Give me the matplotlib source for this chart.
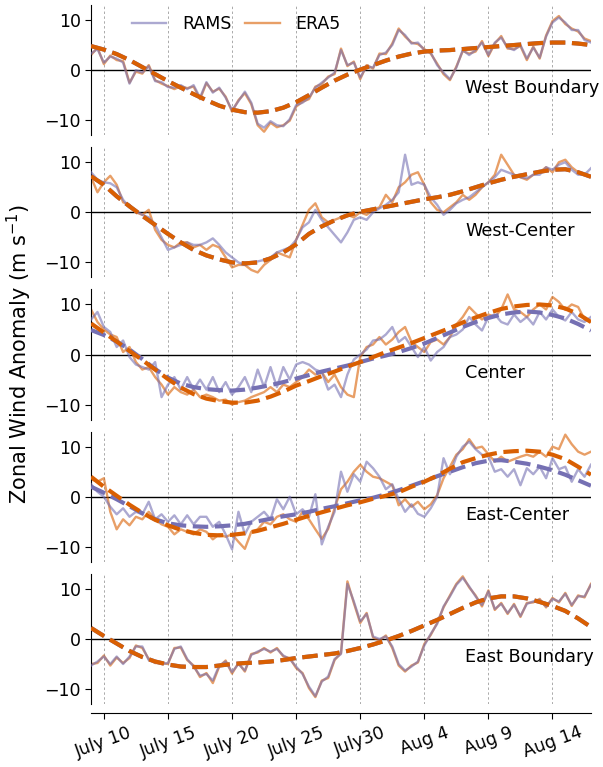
import numpy as np
import matplotlib.pyplot as plt

# half-day samples, expressed as day of July (Aug 1 = 32)
day = np.arange(9.0, 48.01, 0.5)
# daily samples for the smoothed (low-pass) curves
day_smooth = np.arange(9, 49)

regions = ["West Boundary", "West-Center", "Center", "East-Center", "East Boundary"]

rams_west_boundary = [
    3.3, 4.2, 1.5, 2.7, 2.3, 1.5, -2.7, 0.0, -0.5, 0.8, -2.2, -2.4, -3.4, -3.5, -3.0, -3.8, -3.0,
    -5.5, -2.4, -4.5, -3.5, -5.5, -8.0, -6.2, -4.3, -6.5, -10.7, -11.5, -10.2, -11.0, -11.2, -9.8, -7.0,
    -6.5, -5.5, -3.5, -2.5, -1.5, -0.5, 4.0, 1.0, 1.5, -1.5, 0.8, 0.5, 3.0, 3.5, 5.0, 8.0, 7.0, 5.3,
    5.5, 4.0, 3.5, 1.0, -0.5, -1.8, 0.5, 4.0, 3.0, 4.0, 5.5, 3.0, 5.5, 6.5, 4.5, 4.0, 5.0, 2.3, 4.5,
    2.5, 6.7, 9.5, 10.5, 9.5, 8.0, 8.0, 6.0, 5.5,
]
era5_west_boundary = [
    3.0, 4.5, 1.2, 2.9, 2.0, 1.8, -2.5, -0.3, -0.7, 1.0, -2.0, -2.7, -3.2, -3.8, -3.2, -3.6, -3.3,
    -5.8, -2.6, -4.3, -3.7, -5.3, -8.3, -6.0, -4.6, -6.8, -11.0, -12.3, -10.5, -11.4, -11.0, -10.1, -7.3,
    -6.3, -5.8, -3.3, -2.8, -1.3, -0.8, 4.3, 0.8, 1.7, -1.8, 1.0, 0.3, 3.3, 3.2, 5.3, 8.3, 6.7, 5.5,
    5.2, 4.2, 3.3, 1.3, -0.8, -2.0, 0.7, 3.8, 3.3, 3.7, 5.8, 2.8, 5.3, 6.8, 4.3, 4.2, 4.8, 2.0, 4.7,
    2.3, 6.9, 9.8, 10.8, 9.2, 8.3, 7.7, 6.3, 5.8,
]
rams_west_center = [
    8.0, 6.5, 6.0, 5.8, 5.0, 2.5, 1.0, 0.3, -0.5, -1.0, -2.5, -5.0, -7.5, -7.0, -6.5, -6.0, -6.5,
    -6.5, -6.0, -5.2, -6.5, -8.0, -9.0, -10.0, -10.5, -10.0, -9.8, -9.5, -9.0, -8.0, -7.5, -7.0, -5.5,
    -3.0, -2.0, 0.5, -1.5, -3.0, -4.5, -6.0, -4.0, -1.5, -1.0, -1.5, 0.0, 0.8, 1.5, 2.5, 4.0, 11.5, 5.5,
    6.0, 5.5, 3.0, 1.5, -0.5, 0.5, 1.8, 2.5, 3.0, 4.0, 5.0, 6.0, 7.0, 8.5, 8.0, 7.5, 7.0, 6.8, 7.5,
    7.5, 9.0, 8.5, 9.5, 10.0, 8.5, 7.5, 7.5, 8.8,
]
era5_west_center = [
    7.0, 4.0, 6.0, 7.3, 5.5, 2.0, 1.5, 0.0, -0.5, 0.5, -3.5, -5.5, -6.5, -7.0, -6.0, -6.0, -7.0,
    -6.5, -7.5, -6.5, -7.0, -9.0, -11.0, -10.5, -10.5, -11.5, -12.0, -10.5, -9.5, -8.0, -8.5, -9.0, -5.5,
    -2.5, 0.5, 1.8, -1.0, -2.0, -1.5, -1.0, -0.5, -1.0, 0.0, -0.5, 0.5, 1.0, 3.5, 2.0, 5.0, 6.0, 7.5,
    8.0, 5.5, 2.0, 0.5, 0.0, 1.0, 2.0, 3.5, 2.5, 3.5, 5.0, 6.0, 7.5, 11.5, 9.5, 7.5, 7.0, 6.5, 7.5,
    8.0, 9.0, 8.0, 10.0, 10.5, 9.0, 8.0, 7.5, 7.0,
]
rams_center = [
    7.0, 8.5, 5.5, 4.5, 1.5, 2.8, -0.5, -2.0, -2.5, -3.0, -1.5, -8.5, -6.0, -4.5, -7.0, -4.5, -7.0,
    -5.0, -7.0, -4.5, -7.5, -5.5, -8.0, -6.5, -4.5, -7.5, -3.0, -6.5, -2.5, -6.5, -2.5, -5.0, -2.0,
    -1.5, -2.0, -3.0, -3.5, -7.0, -6.0, -8.5, -4.0, -1.0, 0.0, 1.0, 2.8, 3.0, 4.0, 5.5, 2.5, 3.5, 1.5,
    -0.5, 1.5, -1.2, 0.5, 1.5, 3.5, 4.0, 5.0, 7.5, 6.0, 4.8, 7.5, 8.0, 6.5, 6.0, 8.0, 6.5, 7.5, 6.0,
    8.5, 7.0, 9.0, 7.5, 6.8, 8.5, 7.0, 6.5, 7.5,
]
era5_center = [
    9.0, 6.5, 5.0, 4.0, 3.5, 0.5, 1.5, -1.5, -3.0, -2.5, -4.5, -6.0, -8.0, -6.5, -7.5, -8.0, -7.0,
    -8.5, -8.0, -8.5, -9.2, -9.0, -10.0, -9.5, -9.2, -8.5, -8.0, -7.5, -6.5, -7.5, -6.0, -6.5, -5.5,
    -4.5, -3.0, -4.0, -3.5, -5.5, -4.0, -6.5, -8.0, -8.5, -0.5, 1.5, 2.0, 3.5, 2.0, 3.0, 4.5, 5.5, 2.5,
    1.5, 0.5, 2.5, 3.0, 2.0, 3.5, 6.0, 7.5, 9.5, 8.2, 7.0, 8.0, 7.5, 9.0, 12.0, 9.0, 8.5, 7.5, 9.0,
    10.0, 9.0, 11.5, 10.5, 8.9, 10.0, 9.5, 7.0, 6.5,
]
rams_east_center = [
    2.5, 1.0, 0.0, -2.0, -3.5, -2.3, -4.0, -3.0, -3.5, -1.0, -4.5, -3.5, -5.0, -3.7, -5.5, -3.7, -5.5,
    -4.0, -4.0, -6.0, -5.0, -7.5, -10.5, -3.0, -7.5, -5.0, -4.0, -3.0, -4.5, -0.5, -2.5, 0.0, -3.5,
    -2.5, -4.0, 0.5, -9.5, -6.0, -3.0, 5.0, 1.0, 4.5, 3.0, 7.0, 5.7, 4.0, 1.5, 2.5, -0.5, -3.0, -1.5,
    -3.4, -4.0, -2.3, 0.0, 7.7, 4.5, 8.0, 10.0, 11.0, 9.5, 8.4, 8.0, 5.0, 5.5, 4.0, 5.5, 2.3, 5.7, 4.5,
    6.0, 3.7, 7.7, 5.5, 6.0, 3.0, 5.5, 4.0, 6.4,
]
era5_east_center = [
    3.5, 3.0, 3.7, -3.0, -6.5, -4.5, -5.7, -4.0, -4.5, -3.0, -4.5, -5.5, -6.0, -7.5, -6.5, -7.0, -7.5,
    -6.5, -7.0, -8.5, -7.5, -8.0, -7.5, -9.0, -10.4, -7.0, -6.5, -5.0, -5.5, -4.0, -3.5, -4.5, -5.0,
    -3.0, -4.5, -6.5, -8.4, -6.4, -2.3, 1.5, 3.0, 5.0, 6.4, 5.0, 4.0, 3.7, 3.0, 2.3, -1.7, -0.5, -2.0,
    -1.0, -2.5, -1.5, 0.3, 3.7, 6.0, 8.4, 9.5, 11.5, 9.7, 10.0, 8.5, 7.0, 8.0, 7.0, 7.5, 8.0, 8.4, 8.0,
    9.0, 8.0, 10.0, 9.5, 12.4, 10.5, 9.0, 8.4, 9.0,
]
rams_east_boundary = [
    -5.3, -4.5, -3.5, -5.0, -3.5, -5.0, -3.5, -1.5, -1.5, -4.2, -4.5, -5.0, -4.8, -2.0, -1.5, -4.0, -5.5,
    -7.3, -7.0, -8.3, -5.3, -4.5, -6.6, -5.0, -6.3, -3.2, -2.5, -2.0, -2.5, -2.0, -3.3, -4.0, -5.5,
    -7.0, -9.5, -11.4, -8.5, -7.5, -4.0, -3.0, 11.0, 7.5, 3.5, 5.0, 0.5, 0.0, 0.5, -1.5, -5.0, -6.3, -5.5,
    -4.5, -1.3, 1.0, 3.0, 6.5, 8.5, 10.8, 12.2, 10.5, 8.5, 6.8, 9.5, 6.0, 7.0, 5.2, 6.8, 4.6, 7.0, 7.5,
    7.8, 6.5, 8.0, 7.5, 9.0, 6.8, 8.5, 8.5, 10.8,
]
era5_east_boundary = [
    -5.0, -4.8, -3.3, -5.3, -3.7, -4.8, -3.8, -1.3, -1.8, -4.0, -4.8, -4.8, -5.0, -1.8, -1.7, -4.2, -5.3,
    -7.6, -6.8, -8.8, -5.5, -4.3, -6.9, -4.8, -6.5, -3.0, -2.7, -1.8, -2.7, -1.8, -3.5, -3.8, -5.8,
    -6.8, -9.8, -11.6, -8.3, -7.8, -4.2, -2.8, 11.5, 7.2, 3.2, 5.2, 0.3, -0.3, 0.7, -1.8, -5.3, -6.5, -5.3,
    -4.7, -1.0, 0.8, 3.2, 6.3, 8.7, 11.0, 12.5, 10.3, 8.7, 6.5, 9.7, 5.8, 7.2, 5.0, 7.0, 4.4, 7.2, 7.3,
    8.0, 6.3, 8.2, 7.3, 9.2, 6.6, 8.7, 8.3, 11.0,
]

era5_smooth_west_boundary = [
    4.8, 4.1, 3.2, 2.0, 0.6, -0.8, -2.2, -3.5, -4.8, -6.0, -7.1, -7.9, -8.4, -8.5, -8.2, -7.5, -6.4, -5.0,
    -3.5, -2.1, -0.9, 0.1, 1.0, 1.9, 2.7, 3.3, 3.7, 3.9, 4.0, 4.2, 4.4, 4.6, 4.8, 5.0, 5.2, 5.4, 5.5, 5.5,
    5.3, 5.0,
]
era5_smooth_west_center = [
    7.2, 5.5, 3.2, 1.2, -0.7, -2.5, -4.3, -6.0, -7.5, -8.6, -9.4, -10.0, -10.2, -10.0, -9.2, -8.0, -6.4,
    -4.3, -2.8, -1.6, -0.6, 0.1, 0.6, 1.1, 1.6, 2.1, 2.6, 3.0, 3.5, 4.2, 5.0, 5.8, 6.5, 7.1, 7.6, 8.1, 8.5,
    8.6, 8.0, 7.1,
]
era5_smooth_center = [
    6.2, 4.4, 2.6, 0.7, -1.1, -3.0, -4.9, -6.6, -7.9, -8.8, -9.3, -9.6, -9.6, -9.2, -8.4, -7.4, -6.2, -5.3,
    -4.3, -3.4, -2.4, -1.5, -0.5, 0.5, 1.4, 2.3, 3.3, 4.3, 5.3, 6.4, 7.4, 8.3, 9.1, 9.6, 9.9, 10.0, 9.8,
    9.2, 8.1, 6.5,
]
era5_smooth_east_center = [
    4.0, 2.0, 0.2, -1.6, -3.2, -4.6, -5.7, -6.6, -7.2, -7.6, -7.7, -7.6, -7.3, -6.8, -6.1, -5.4, -4.6,
    -3.8, -3.1, -2.4, -1.7, -1.1, -0.4, 0.2, 0.9, 2.0, 3.0, 4.2, 5.6, 6.9, 7.7, 8.4, 8.9, 9.1, 9.2, 9.0,
    8.4, 7.5, 6.0, 4.4,
]
era5_smooth_east_boundary = [
    2.2, 0.6, -0.9, -2.4, -3.6, -4.5, -5.1, -5.5, -5.6, -5.6, -5.3, -5.0, -4.8, -4.7, -4.5, -4.2, -3.8,
    -3.5, -3.2, -2.9, -2.4, -1.8, -1.1, -0.3, 0.6, 1.6, 2.7, 3.8, 5.0, 6.2, 7.3, 8.1, 8.5, 8.5, 8.1, 7.4,
    6.6, 5.6, 4.1, 2.4,
]
rams_smooth_center = [
    4.9, 3.9, 2.6, 1.0, -0.9, -2.9, -4.6, -5.8, -6.5, -6.9, -7.1, -7.2, -7.0, -6.6, -6.1, -5.5, -4.8,
    -4.1, -3.4, -2.8, -2.2, -1.5, -0.8, -0.2, 0.5, 1.3, 2.2, 3.3, 4.4, 5.5, 6.5, 7.3, 8.0, 8.4, 8.6, 8.4,
    7.9, 7.2, 6.1, 4.8,
]
rams_smooth_east_center = [
    2.0, 0.8, -0.5, -1.9, -3.3, -4.5, -5.3, -5.7, -5.9, -6.0, -5.9, -5.7, -5.4, -4.9, -4.4, -3.9, -3.5,
    -3.0, -2.4, -1.9, -1.3, -0.7, -0.2, 0.5, 1.3, 2.2, 3.1, 4.1, 5.0, 5.9, 6.7, 7.2, 7.3, 7.0, 6.6, 6.0,
    5.3, 4.4, 3.3, 2.2,
]

rams = [rams_west_boundary, rams_west_center, rams_center, rams_east_center, rams_east_boundary]
era5 = [era5_west_boundary, era5_west_center, era5_center, era5_east_center, era5_east_boundary]
era5_smooth = [era5_smooth_west_boundary, era5_smooth_west_center, era5_smooth_center,
               era5_smooth_east_center, era5_smooth_east_boundary]
# at the boundaries RAMS is forced by ERA5, so the smoothed curves coincide there
rams_smooth = [era5_smooth_west_boundary, era5_smooth_west_center, rams_smooth_center,
               rams_smooth_east_center, era5_smooth_east_boundary]

tick_days = [10, 15, 20, 25, 30, 35, 40, 45]
tick_labels = ["July 10", "July 15", "July 20", "July 25", "July30", "Aug 4", "Aug 9", "Aug 14"]

RAMS_COLOR = "#7570b3"
ERA5_COLOR = "#d95f02"

fig, axes = plt.subplots(5, 1, figsize=(6.03, 7.67), dpi=100, sharex=True)
fig.subplots_adjust(left=0.151, right=0.980, top=0.9935, bottom=0.082, hspace=0.092)

for i, ax in enumerate(axes):
    for d in tick_days:
        ax.axvline(d, color="#aaaaaa", linestyle="--", linewidth=0.7, dashes=(2.5, 2.5), zorder=0)
    ax.axhline(0, color="black", linewidth=1.0, zorder=1)

    ax.plot(day, era5[i], color=ERA5_COLOR, alpha=0.6, linewidth=1.7, label="ERA5", zorder=2)
    ax.plot(day, rams[i], color=RAMS_COLOR, alpha=0.6, linewidth=1.7, label="RAMS", zorder=3)
    ax.plot(day_smooth, rams_smooth[i], color=RAMS_COLOR, linewidth=3, linestyle="--", zorder=4)
    ax.plot(day_smooth, era5_smooth[i], color=ERA5_COLOR, linewidth=3, linestyle="--", zorder=5)

    ax.text(0.749, 0.36, regions[i], transform=ax.transAxes, fontsize=12.7, ha="left", va="center")

    ax.set_xlim(9, 48)
    ax.set_ylim(-13, 13)
    ax.set_yticks([-10, 0, 10])
    ax.tick_params(axis="y", labelsize=12.5, length=4)
    for side in ("top", "right"):
        ax.spines[side].set_visible(False)
    if i < len(axes) - 1:
        ax.spines["bottom"].set_visible(False)
        ax.tick_params(axis="x", bottom=False, labelbottom=False)

bottom_ax = axes[-1]
bottom_ax.spines["bottom"].set_position(("outward", 6.5))
bottom_ax.set_xticks(tick_days)
bottom_ax.set_xticklabels(tick_labels, rotation=20, ha="center", fontsize=12.5)
bottom_ax.tick_params(axis="x", length=4)

handles, labels = axes[0].get_legend_handles_labels()
axes[0].legend(handles[::-1], labels[::-1], loc="upper left", bbox_to_anchor=(0.05, 1.045),
               ncol=2, frameon=False, fontsize=12.5, columnspacing=0.8, handletextpad=0.9)

fig.text(0.033, 0.538, "Zonal Wind Anomaly (m s$^{-1}$)", rotation=90, fontsize=15,
         ha="center", va="center")

fig.savefig("out.png", dpi=100)
